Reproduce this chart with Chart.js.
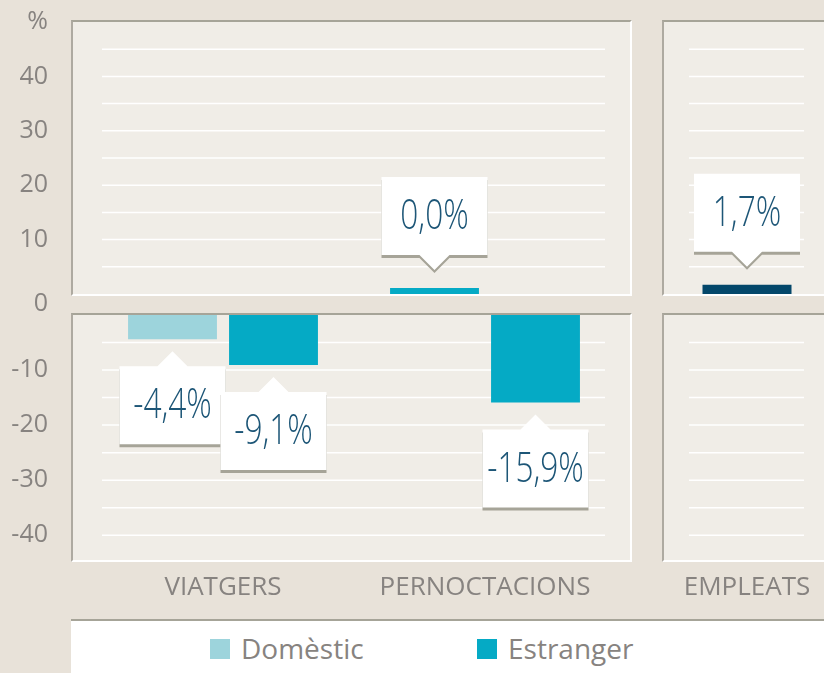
<!DOCTYPE html>
<html>
<head>
<meta charset="utf-8">
<script src="https://cdn.jsdelivr.net/npm/chart.js@4/dist/chart.umd.min.js"></script>
<style>
  html, body { margin: 0; padding: 0; }
  body {
    width: 824px; height: 673px; overflow: hidden; position: relative;
    background: #e8e2d9; font-family: "Open Sans", sans-serif;
  }
  .panel {
    position: absolute; box-sizing: border-box; background: #f0ede7;
    border-left: 2px solid #aeaaa1; border-top: 2px solid #a6a498;
    border-right: 2px solid #fff; border-bottom: 2px solid #fff;
  }
  canvas { position: absolute; left: 0; }
  #legend {
    position: absolute; left: 71px; top: 619px; width: 753px; height: 54px;
    box-sizing: border-box; background: #fff; border-top: 2px solid #a6a498;
  }
  .lg-box { position: absolute; top: 639px; width: 20px; height: 20px; }
  .lg-text {
    position: absolute; top: 629px; line-height: 38px; font-size: 28px;
    font-weight: 400; color: #878380; white-space: nowrap;
  }
</style>
</head>
<body>
<div class="panel" style="left:71px; top:20px; width:561px; height:276px"></div>
<div class="panel" style="left:662px; top:20px; width:200px; height:276px"></div>
<div class="panel" style="left:71px; top:313px; width:561px; height:249px"></div>
<div class="panel" style="left:662px; top:313px; width:200px; height:249px"></div>
<div id="legend"></div>
<canvas id="chart-top" width="880" height="320" style="top:0"></canvas>
<canvas id="chart-bottom" width="880" height="320" style="top:300px"></canvas>
<script>
const CATEGORIES = ["VIATGERS", "PERNOCTACIONS", "EMPLEATS"];
const SERIES = ["Domèstic", "Estranger", "Empleats"];
const DOMESTIC = [-4.4, 0.0, null];
const FOREIGN = [-9.1, -15.9, null];
const EMPLOYEES = [null, null, 1.7];
const Y_UNIT = "%";
const TOP_MAX = 50;
const BOTTOM_MIN = -44.5;

const C_DOMESTIC = "#9dd4dc";
const C_FOREIGN = "#05aac5";
const C_EMPLOYEES = "#03476a";
const C_TEXT = "#878380";
const C_VALUE = "#1d5677";
const C_SHADOW = "#a6a498";

// white grid lines only inside each panel
const GRID_SPANS = [[102, 605], [689, 804]];

const panelGrid = {
  id: "panelGrid",
  beforeDatasetsDraw(chart) {
    const ctx = chart.ctx;
    const y = chart.scales.y;
    ctx.save();
    ctx.strokeStyle = "#ffffff";
    ctx.lineWidth = 1.5;
    y.ticks.forEach(function (t) {
      if (t.value === 0 || t.value % 5 !== 0 || t.value === y.max) return;
      const py = y.getPixelForValue(t.value);
      GRID_SPANS.forEach(function (s) {
        ctx.beginPath();
        ctx.moveTo(s[0], py);
        ctx.lineTo(s[1], py);
        ctx.stroke();
      });
    });
    ctx.restore();
  },
};

function fmt(v) {
  return v.toFixed(1).replace(".", ",") + "%";
}

function drawCallout(ctx, x, y, text, above) {
  const w = 106, h = 78, pw = 15, ph = 15;
  const left = x - w / 2;
  const top = above ? y - 33 - h : y + 27;
  function shape(dy) {
    ctx.beginPath();
    if (above) {
      ctx.moveTo(left, top + dy);
      ctx.lineTo(left + w, top + dy);
      ctx.lineTo(left + w, top + h + dy);
      ctx.lineTo(x + pw, top + h + dy);
      ctx.lineTo(x, top + h + ph + dy);
      ctx.lineTo(x - pw, top + h + dy);
      ctx.lineTo(left, top + h + dy);
    } else {
      ctx.moveTo(left, top + dy);
      ctx.lineTo(x - pw, top + dy);
      ctx.lineTo(x, top - ph + dy);
      ctx.lineTo(x + pw, top + dy);
      ctx.lineTo(left + w, top + dy);
      ctx.lineTo(left + w, top + h + dy);
      ctx.lineTo(left, top + h + dy);
    }
    ctx.closePath();
    ctx.fill();
  }
  ctx.fillStyle = C_SHADOW;
  shape(3);
  ctx.fillStyle = "#ffffff";
  shape(0);
  ctx.save();
  ctx.translate(x, top + h / 2 + 1);
  ctx.scale(0.735, 1);
  ctx.font = '300 43px "Open Sans"';
  ctx.textAlign = "center";
  ctx.textBaseline = "middle";
  ctx.fillStyle = C_VALUE;
  ctx.fillText(text, 0, 0);
  ctx.restore();
}

const callouts = {
  id: "callouts",
  afterDatasetsDraw(chart, args, opts) {
    const ctx = chart.ctx;
    chart.data.datasets.forEach(function (ds, i) {
      const meta = chart.getDatasetMeta(i);
      ds.data.forEach(function (v, j) {
        if (v === null) return;
        if ((v >= 0) !== opts.positive) return;
        const bar = meta.data[j];
        drawCallout(ctx, bar.x, bar.y, fmt(v), opts.positive);
      });
    });
  },
};

function buildDatasets(top) {
  const common = {
    skipNull: true,
    clip: 0,
    borderWidth: 0,
    categoryPercentage: 0.771,
    barPercentage: 0.88,
  };
  return [
    Object.assign({}, common, {
      label: SERIES[0],
      data: DOMESTIC,
      backgroundColor: DOMESTIC.map((v) => (v === 0 ? C_FOREIGN : C_DOMESTIC)),
      minBarLength: top ? 6 : 0,
    }),
    Object.assign({}, common, {
      label: SERIES[1],
      data: FOREIGN,
      backgroundColor: C_FOREIGN,
    }),
    Object.assign({}, common, {
      label: SERIES[2],
      data: EMPLOYEES,
      backgroundColor: C_EMPLOYEES,
      barPercentage: 0.4406,
    }),
  ];
}

function yAxis(top) {
  return {
    position: "left",
    min: top ? 0 : BOTTOM_MIN,
    max: top ? TOP_MAX : 0,
    afterFit: function (s) {
      s.width = 92;
      s.paddingTop = 0;
      s.paddingBottom = 0;
    },
    grid: { display: false, drawTicks: false },
    border: { display: false },
    ticks: {
      stepSize: 5,
      includeBounds: false,
      autoSkip: false,
      padding: 44,
      color: C_TEXT,
      font: function (c) {
        const zero = top && c.tick && c.tick.value === 0;
        return { family: "Open Sans", size: 25, lineHeight: zero ? "20px" : 1.2 };
      },
      callback: function (v) {
        if (top && v === TOP_MAX) return Y_UNIT;
        if (v === 0) return top ? ["", "0"] : "";
        return v % 10 === 0 ? String(v) : "";
      },
    },
  };
}

function xAxis(top) {
  return {
    display: !top,
    afterFit: function (s) {
      s.height = top ? 0 : 60;
      s.paddingLeft = 0;
      s.paddingRight = 0;
    },
    grid: { display: false, drawTicks: false },
    border: { display: false },
    ticks: {
      autoSkip: false,
      maxRotation: 0,
      minRotation: 0,
      padding: 12,
      color: C_TEXT,
      font: { family: "Open Sans", size: 26 },
    },
  };
}

function makeChart(id, top) {
  return new Chart(document.getElementById(id), {
    type: "bar",
    data: { labels: CATEGORIES, datasets: buildDatasets(top) },
    options: {
      responsive: false,
      devicePixelRatio: 1,
      animation: false,
      events: [],
      layout: top
        ? { padding: { top: 22, bottom: 26, left: 0, right: 2 } }
        : { padding: { top: 15, bottom: 0, left: 0, right: 2 } },
      scales: { x: xAxis(top), y: yAxis(top) },
      plugins: {
        legend: { display: false },
        tooltip: { enabled: false },
        callouts: { positive: top },
      },
    },
    plugins: [panelGrid, callouts],
  });
}

makeChart("chart-top", true);
makeChart("chart-bottom", false);

// legend (only the two visitor series)
[C_DOMESTIC, C_FOREIGN].forEach(function (color, i) {
  const left = 210 + i * 267;
  const box = document.createElement("div");
  box.className = "lg-box";
  box.style.left = left + "px";
  box.style.background = color;
  document.body.appendChild(box);
  const txt = document.createElement("div");
  txt.className = "lg-text";
  txt.style.left = left + 31 + "px";
  txt.textContent = SERIES[i];
  document.body.appendChild(txt);
});
</script>
</body>
</html>
